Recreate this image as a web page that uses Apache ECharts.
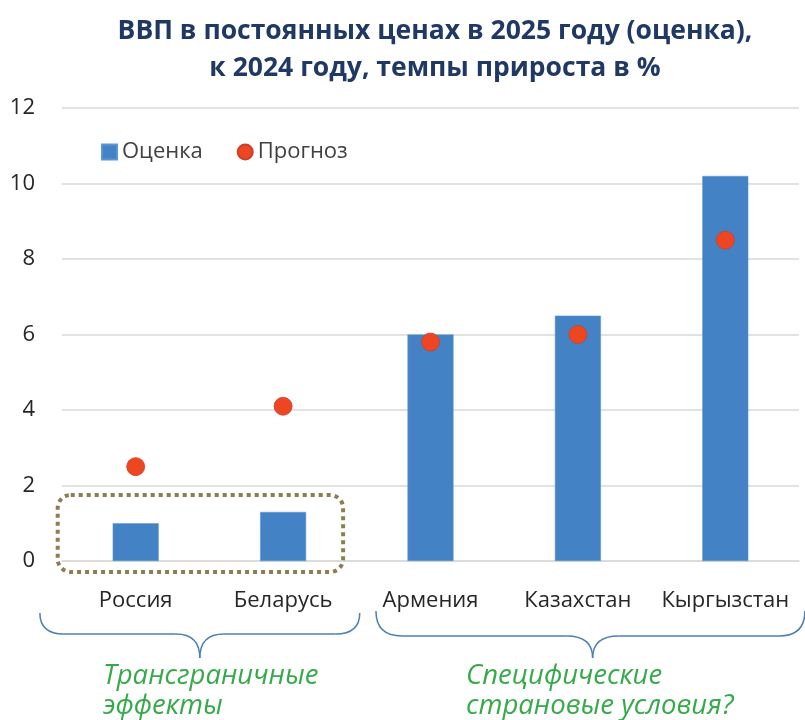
<!DOCTYPE html>
<html><head><meta charset="utf-8">
<script src="https://cdn.jsdelivr.net/npm/echarts@6/dist/echarts.min.js"></script>
<style>html,body{margin:0;padding:0;background:#fff}#c{width:805px;height:720px}</style>
</head><body><div id="c"></div>
<script>
var titleLines = ['ВВП в постоянных ценах в 2025 году (оценка),', 'к 2024 году, темпы прироста в %'];
var categories = ['Россия', 'Беларусь', 'Армения', 'Казахстан', 'Кыргызстан'];
var estimate = [1.0, 1.3, 6.0, 6.5, 10.2];
var forecast = [2.5, 4.1, 5.8, 6.0, 8.5];
var seriesNames = ['Оценка', 'Прогноз'];
var groupLabels = [['Трансграничные', 'эффекты'], ['Специфические', 'страновые условия?']];
var yTicks = {min: 0, max: 12, interval: 2};

var chart = echarts.init(document.getElementById('c'), null, {renderer: 'canvas'});
var FONT = 'Open Sans';
chart.setOption({
  animation: false,
  backgroundColor: '#fff',
  title: {
    text: titleLines.join('\n'), left: 430, top: 8, textAlign: 'center',
    textStyle: {fontFamily: FONT, fontWeight: 'bold', fontSize: 26.5, color: '#1F3864', lineHeight: 37}
  },
  legend: {
    left: 96, top: 136, itemWidth: 15, itemHeight: 15, itemGap: 34,
    textStyle: {fontFamily: FONT, fontSize: 22, color: '#404040'},
    data: [{name: seriesNames[0], icon: 'rect'}, {name: seriesNames[1], icon: 'circle'}]
  },
  grid: {left: 62, right: 6, top: 108, bottom: 159, containLabel: false},
  xAxis: {
    type: 'category', data: categories,
    axisLine: {show: true, lineStyle: {color: '#d9d9d9', width: 1.5}},
    axisTick: {show: false},
    axisLabel: {interval: 0, fontFamily: FONT, fontSize: 22, color: '#262626', margin: 29}
  },
  yAxis: {
    type: 'value', min: yTicks.min, max: yTicks.max, interval: yTicks.interval,
    axisLine: {show: false}, axisTick: {show: false},
    axisLabel: {fontFamily: FONT, fontSize: 22, color: '#262626', margin: 27},
    splitLine: {lineStyle: {color: '#d9d9d9', width: 1.5}}
  },
  series: [
    {name: seriesNames[0], type: 'bar', data: estimate, barWidth: 46,
     itemStyle: {color: '#4382C4', borderColor: '#5A97D2', borderWidth: 0.5}},
    {name: seriesNames[1], type: 'scatter', data: forecast, symbol: 'circle', symbolSize: 18,
     itemStyle: {color: '#EE4622', borderColor: '#C8402A', borderWidth: 0.8, opacity: 1}, z: 5}
  ]
});

function px(i, v) { return chart.convertToPixel({xAxisIndex: 0, yAxisIndex: 0}, [i, v]); }
var step = px(1, 0)[0] - px(0, 0)[0];
var p0 = px(0, 0), p1 = px(1, 0);

var braceStyle = {fill: 'none', stroke: '#4A7FB8', lineWidth: 1.5};
function brace(x1, x2, yTop, yMid, tipX, yTip, r) {
  var els = [];
  function q(a, b, c, d, e, f) {
    els.push({type: 'bezierCurve', shape: {x1: a, y1: b, cpx1: c, cpy1: d, x2: e, y2: f}, style: braceStyle});
  }
  function l(a, b, c, d) {
    els.push({type: 'line', shape: {x1: a, y1: b, x2: c, y2: d}, style: braceStyle});
  }
  q(x1, yTop, x1, yMid, x1 + r, yMid);
  l(x1 + r, yMid, tipX - r, yMid);
  q(tipX - r, yMid, tipX, yMid, tipX, yTip);
  q(tipX, yTip, tipX, yMid, tipX + r, yMid);
  l(tipX + r, yMid, x2 - r, yMid);
  q(x2 - r, yMid, x2, yMid, x2, yTop);
  return els;
}
var lb1 = p0[0] - 0.65 * step, lb2 = p1[0] + 0.52 * step;
var rb1 = px(2, 0)[0] - 0.37 * step, rb2 = px(4, 0)[0] + 0.54 * step;
var greenStyle = {fontFamily: FONT, fontStyle: 'italic', fontSize: 27.5, fill: '#36AA4A'};
var gr = [
  {type: 'rect', shape: {x: p0[0] - 78, y: p0[1] - 66, width: (p1[0] + 60) - (p0[0] - 78), height: 77, r: 13},
   style: {fill: 'none', stroke: '#8E7D52', lineWidth: 4, lineDash: [4, 4]}, z: 10},
  {type: 'text', left: 103, top: 661, style: Object.assign({text: groupLabels[0].join('\n'), lineHeight: 30}, greenStyle)},
  {type: 'text', left: 466, top: 661, style: Object.assign({text: groupLabels[1].join('\n'), lineHeight: 30}, greenStyle)}
];
gr = gr.concat(brace(lb1, lb2, 613, 634, (lb1 + lb2) / 2, 658, 24));
gr = gr.concat(brace(rb1, rb2, 611, 636, px(2, 0)[0] + 1.1 * step, 658, 26));
chart.setOption({graphic: gr});
</script></body></html>
